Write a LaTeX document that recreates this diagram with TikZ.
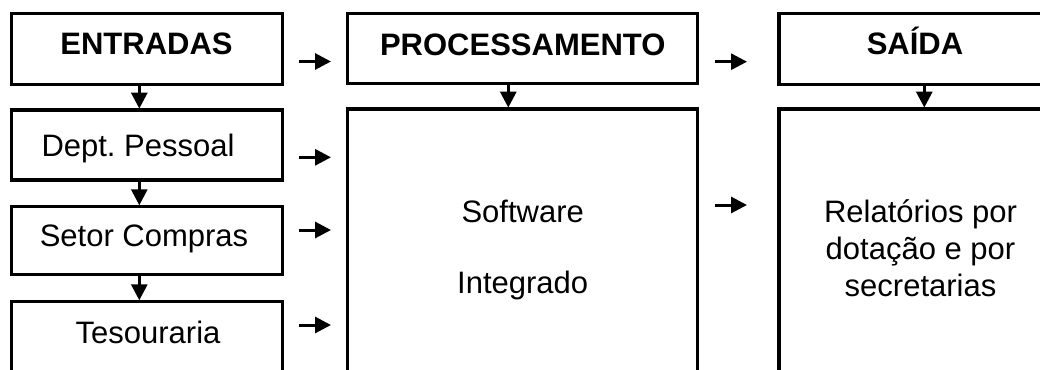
\documentclass[tikz,border=0pt]{standalone}
\usepackage{fontspec}
\setmainfont{Liberation Sans}
\frenchspacing
\usetikzlibrary{fit,arrows.meta}
\begin{document}
\begin{tikzpicture}[x=1pt,y=-1pt,
  box/.style={draw=black,line width=3.3pt,inner sep=0pt,outer sep=0pt,rectangle},
  lbl/.style={anchor=base,inner sep=0pt,font=\fontsize{31}{37}\selectfont},
  hdr/.style={lbl,font=\fontsize{31}{37}\selectfont\bfseries},
  arr/.style={line width=3pt,-{Triangle[length=16pt,width=16pt]}}]
\useasboundingbox (0,0) rectangle (1040,369);
\clip (0,0) rectangle (1040,369);

% column 1: inputs
\node[box,fit={(11.7,13.7)(282.3,84.3)}] (ent) {};
\node[box,fit={(11.7,110)(282.3,180)}] (dep) {};
\node[box,fit={(11.7,206.7)(282.3,274.3)}] (set) {};
\node[box,fit={(11.7,301.7)(282.3,420)}] (tes) {};
\node[hdr] (entT) at (146.5,55) {ENTRADAS};
\node[lbl] (depT) at (138,156.7) {Dept. Pessoal};
\node[lbl] (setT) at (144,246.7) {Setor Compras};
\node[lbl] (tesT) at (148,343.3) {Tesouraria};

% column 2: processing (multi-line labels are anchored on their last baseline)
\node[box,fit={(347.7,13.7)(697.7,83.3)}] (proc) {};
\node[box,fit={(347.7,109)(697.7,420)}] (soft) {};
\node[hdr] (procT) at (522.7,56) {PROCESSAMENTO};
\node[lbl,align=center] (softT) at (522.7,293) {Software\\[34pt]Integrado};

% column 3: output
\node[box,fit={(779,13.7)(1100,84.3)}] (sai) {};
\node[box,fit={(779,109)(1100,420)}] (rel) {};
\node[hdr] (saiT) at (915,55) {SAÍDA};
\node[lbl,align=center] (relT) at (920.5,296) {Relatórios por\\dotação e por\\secretarias};

% vertical flow inside each column
\draw[arr,shorten >=1.4pt] ([xshift=-7.7pt]ent.south) -- ([xshift=-7.7pt]dep.north);
\draw[arr,shorten >=1.4pt] ([xshift=-7.7pt]dep.south) -- ([xshift=-7.7pt]set.north);
\draw[arr,shorten >=1.4pt] ([xshift=-7.7pt]set.south) -- ([xshift=-7.7pt]tes.north);
\draw[arr,shorten >=1.4pt] ([xshift=-14.4pt]proc.south) -- ([xshift=-14.4pt]soft.north);
\draw[arr,shorten >=1.4pt] ([xshift=-15.2pt]sai.south) -- ([xshift=-15.2pt]rel.north);

% arrows between columns
\coordinate (a1s) at (299,61.5);  \coordinate (a1e) at (331,61.5);
\coordinate (a2s) at (299,157.3); \coordinate (a2e) at (331,157.3);
\coordinate (a3s) at (299,230);   \coordinate (a3e) at (331,230);
\coordinate (a4s) at (299,325);   \coordinate (a4e) at (331,325);
\coordinate (b1s) at (715,61.7);  \coordinate (b1e) at (747,61.7);
\coordinate (b2s) at (715,205);   \coordinate (b2e) at (747,205);
\draw[arr] (a1s) -- (a1e);
\draw[arr] (a2s) -- (a2e);
\draw[arr] (a3s) -- (a3e);
\draw[arr] (a4s) -- (a4e);
\draw[arr] (b1s) -- (b1e);
\draw[arr] (b2s) -- (b2e);
\end{tikzpicture}
\end{document}
